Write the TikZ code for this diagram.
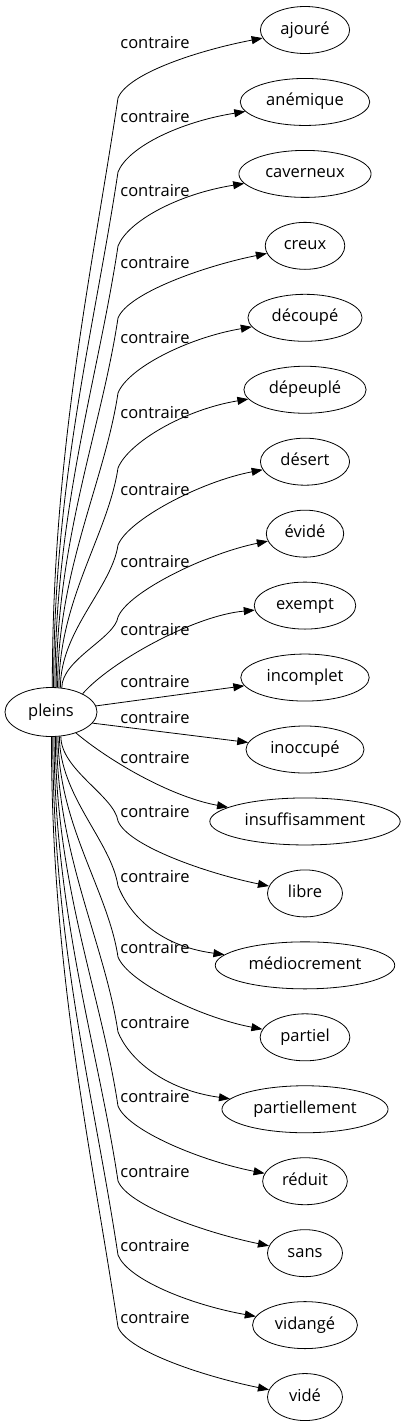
\documentclass[tikz,border=0pt]{standalone}
\usepackage{fontspec}
\setmainfont{Open Sans}
\usetikzlibrary{arrows.meta, calc, shapes.geometric}

\tikzset{
  word/.style={draw, ellipse, line width=0.8pt, minimum width=75pt, minimum height=47pt,
    inner xsep=7pt, inner ysep=2pt, text height=11pt, text depth=3pt,
    font=\fontsize{16.5}{20}\selectfont},
  rel/.style={inner sep=0pt, font=\fontsize{16.5}{20}\selectfont},
  link/.style={line width=0.8pt, -{Triangle[length=11pt,width=8pt]}},
}

\begin{document}
\begin{tikzpicture}[x=1pt, y=1pt]
  \useasboundingbox (0,0) rectangle (406,-1427);

  \node[word, minimum width=92pt, minimum height=49pt] (pl) at (51,-712) {pleins};
  \foreach \w [count=\i] in {ajouré, anémique, caverneux, creux, découpé, dépeuplé,
      désert, évidé, exempt, incomplet, inoccupé, insuffisamment, libre, médiocrement,
      partiel, partiellement, réduit, sans, vidangé, vidé}
    \node[word] (t\i) at (305,{-30-71.95*(\i-1)}) {\w};

  % edges going up
  \foreach \i/\ang/\ly in {1/87/43, 2/84/117, 3/81/191, 4/78/263, 5/75/338,
      6/72/413, 7/69/490, 8/66/562} {
    \pgfmathsetmacro\dy{688-\ly-55}
    \node[rel] (c\i) at (155,-\ly) {contraire};
    \draw[link] (pl.\ang) .. controls +(0,0.4*\dy) and +(-0.045*\dy,-0.3*\dy) .. (118,-\ly-55)
      .. controls +(10,25) and ($(t\i.west)+(-60,-20)$) .. (t\i);
  }

  % edges near the middle
  \node[rel] (c9) at (155,-630) {contraire};
  \draw[link] (pl.30) .. controls +(28,32) and ($(t9.west)+(-60,-10)$) .. (t9);
  \node[rel] (c10) at (155,-682) {contraire};
  \draw[link] (pl) -- (t10);
  \node[rel] (c11) at (155,-718) {contraire};
  \draw[link] (pl.345) -- (t11);
  \node[rel] (c12) at (155,-758) {contraire};
  \draw[link] (pl.320) .. controls +(32,-27) and ($(t12.west)+(-40,25)$) .. (t12);

  % edges going down
  \foreach \i/\ang/\ly in {13/292/812, 14/289/877, 15/286/948, 16/283/1023,
      17/280/1097, 18/277/1172, 19/274/1246, 20/271/1318} {
    \pgfmathsetmacro\dy{\ly+9-737}
    \node[rel] (c\i) at (155,-\ly) {contraire};
    \draw[link] (pl.\ang) .. controls +(0,-0.4*\dy) and +(-0.045*\dy,0.3*\dy) .. (118,-\ly-9)
      .. controls +(10,-25) and ($(t\i.west)+(-60,20)$) .. (t\i);
  }
\end{tikzpicture}
\end{document}
